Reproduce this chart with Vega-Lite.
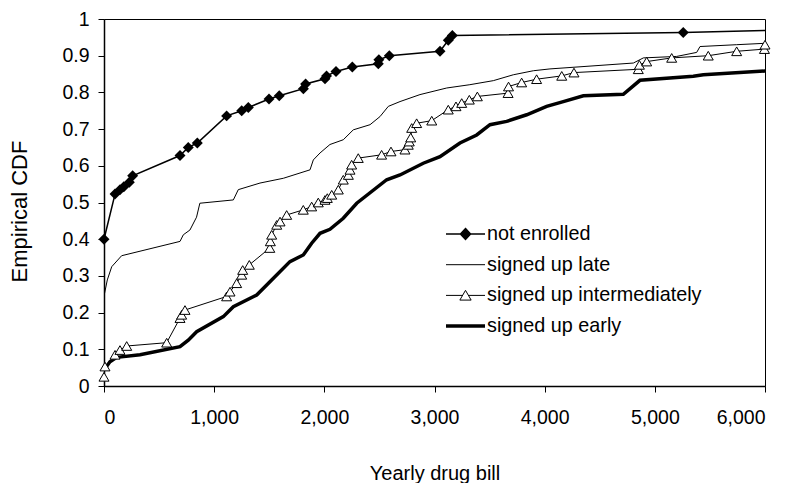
{
  "$schema": "https://vega.github.io/schema/vega-lite/v6.json",
  "width": 661,
  "height": 367,
  "autosize": "none",
  "padding": {"left": 104, "top": 19, "right": 30, "bottom": 97},
  "background": "white",
  "config": {
    "font": "Liberation Sans",
    "view": {"stroke": "black", "strokeWidth": 1},
    "axis": {"grid": false, "domainColor": "black", "domainWidth": 1.5, "tickColor": "black", "tickSize": 6, "labelColor": "black", "titleColor": "black", "labelFont": "Liberation Sans", "titleFont": "Liberation Sans", "titleFontWeight": "normal"}
  },
  "data": {"values": [
    {"g":"not enrolled","x":0,"y":0.40},{"g":"not enrolled","x":100,"y":0.523},{"g":"not enrolled","x":145,"y":0.535},{"g":"not enrolled","x":180,"y":0.543},{"g":"not enrolled","x":230,"y":0.555},{"g":"not enrolled","x":260,"y":0.573},{"g":"not enrolled","x":690,"y":0.628},{"g":"not enrolled","x":765,"y":0.65},{"g":"not enrolled","x":847,"y":0.662},{"g":"not enrolled","x":1113,"y":0.736},{"g":"not enrolled","x":1250,"y":0.75},{"g":"not enrolled","x":1310,"y":0.759},{"g":"not enrolled","x":1498,"y":0.782},{"g":"not enrolled","x":1591,"y":0.791},{"g":"not enrolled","x":1810,"y":0.81},{"g":"not enrolled","x":1830,"y":0.823},{"g":"not enrolled","x":2006,"y":0.837},{"g":"not enrolled","x":2020,"y":0.845},{"g":"not enrolled","x":2106,"y":0.857},{"g":"not enrolled","x":2254,"y":0.869},{"g":"not enrolled","x":2490,"y":0.878},{"g":"not enrolled","x":2495,"y":0.889},{"g":"not enrolled","x":2590,"y":0.9},{"g":"not enrolled","x":3050,"y":0.912},{"g":"not enrolled","x":3125,"y":0.942},{"g":"not enrolled","x":3162,"y":0.955},{"g":"not enrolled","x":5258,"y":0.963},{"g":"not enrolled","x":6400,"y":0.972},
    {"g":"signed up late","x":0,"y":0.245},{"g":"signed up late","x":30,"y":0.289},{"g":"signed up late","x":70,"y":0.325},{"g":"signed up late","x":160,"y":0.355},{"g":"signed up late","x":690,"y":0.394},{"g":"signed up late","x":720,"y":0.412},{"g":"signed up late","x":780,"y":0.425},{"g":"signed up late","x":840,"y":0.46},{"g":"signed up late","x":870,"y":0.498},{"g":"signed up late","x":1174,"y":0.507},{"g":"signed up late","x":1219,"y":0.535},{"g":"signed up late","x":1416,"y":0.553},{"g":"signed up late","x":1628,"y":0.566},{"g":"signed up late","x":1870,"y":0.589},{"g":"signed up late","x":1900,"y":0.616},{"g":"signed up late","x":1961,"y":0.635},{"g":"signed up late","x":2051,"y":0.658},{"g":"signed up late","x":2172,"y":0.671},{"g":"signed up late","x":2263,"y":0.698},{"g":"signed up late","x":2415,"y":0.712},{"g":"signed up late","x":2505,"y":0.734},{"g":"signed up late","x":2581,"y":0.762},{"g":"signed up late","x":2687,"y":0.775},{"g":"signed up late","x":2868,"y":0.794},{"g":"signed up late","x":3111,"y":0.812},{"g":"signed up late","x":3321,"y":0.821},{"g":"signed up late","x":3534,"y":0.832},{"g":"signed up late","x":3715,"y":0.848},{"g":"signed up late","x":3897,"y":0.859},{"g":"signed up late","x":4048,"y":0.864},{"g":"signed up late","x":4805,"y":0.88},{"g":"signed up late","x":4896,"y":0.894},{"g":"signed up late","x":5198,"y":0.898},{"g":"signed up late","x":5380,"y":0.909},{"g":"signed up late","x":5410,"y":0.925},{"g":"signed up late","x":5743,"y":0.93},{"g":"signed up late","x":6015,"y":0.934},
    {"g":"signed up intermediately","x":0,"y":0.025},{"g":"signed up intermediately","x":9,"y":0.053},{"g":"signed up intermediately","x":100,"y":0.085},{"g":"signed up intermediately","x":145,"y":0.098},{"g":"signed up intermediately","x":206,"y":0.109},{"g":"signed up intermediately","x":569,"y":0.118},{"g":"signed up intermediately","x":690,"y":0.185},{"g":"signed up intermediately","x":705,"y":0.194},{"g":"signed up intermediately","x":735,"y":0.207},{"g":"signed up intermediately","x":1113,"y":0.244},{"g":"signed up intermediately","x":1144,"y":0.257},{"g":"signed up intermediately","x":1204,"y":0.28},{"g":"signed up intermediately","x":1250,"y":0.303},{"g":"signed up intermediately","x":1259,"y":0.316},{"g":"signed up intermediately","x":1319,"y":0.33},{"g":"signed up intermediately","x":1505,"y":0.376},{"g":"signed up intermediately","x":1510,"y":0.394},{"g":"signed up intermediately","x":1522,"y":0.412},{"g":"signed up intermediately","x":1568,"y":0.439},{"g":"signed up intermediately","x":1598,"y":0.448},{"g":"signed up intermediately","x":1658,"y":0.466},{"g":"signed up intermediately","x":1809,"y":0.48},{"g":"signed up intermediately","x":1885,"y":0.489},{"g":"signed up intermediately","x":1945,"y":0.5},{"g":"signed up intermediately","x":2006,"y":0.507},{"g":"signed up intermediately","x":2027,"y":0.512},{"g":"signed up intermediately","x":2067,"y":0.521},{"g":"signed up intermediately","x":2127,"y":0.535},{"g":"signed up intermediately","x":2172,"y":0.562},{"g":"signed up intermediately","x":2218,"y":0.575},{"g":"signed up intermediately","x":2233,"y":0.589},{"g":"signed up intermediately","x":2248,"y":0.603},{"g":"signed up intermediately","x":2308,"y":0.621},{"g":"signed up intermediately","x":2520,"y":0.63},{"g":"signed up intermediately","x":2605,"y":0.639},{"g":"signed up intermediately","x":2732,"y":0.644},{"g":"signed up intermediately","x":2762,"y":0.657},{"g":"signed up intermediately","x":2771,"y":0.666},{"g":"signed up intermediately","x":2784,"y":0.677},{"g":"signed up intermediately","x":2793,"y":0.703},{"g":"signed up intermediately","x":2838,"y":0.716},{"g":"signed up intermediately","x":2975,"y":0.723},{"g":"signed up intermediately","x":3125,"y":0.753},{"g":"signed up intermediately","x":3195,"y":0.762},{"g":"signed up intermediately","x":3247,"y":0.771},{"g":"signed up intermediately","x":3316,"y":0.78},{"g":"signed up intermediately","x":3389,"y":0.789},{"g":"signed up intermediately","x":3668,"y":0.798},{"g":"signed up intermediately","x":3672,"y":0.816},{"g":"signed up intermediately","x":3791,"y":0.827},{"g":"signed up intermediately","x":3927,"y":0.836},{"g":"signed up intermediately","x":4155,"y":0.845},{"g":"signed up intermediately","x":4266,"y":0.854},{"g":"signed up intermediately","x":4850,"y":0.863},{"g":"signed up intermediately","x":4860,"y":0.875},{"g":"signed up intermediately","x":4926,"y":0.884},{"g":"signed up intermediately","x":5153,"y":0.894},{"g":"signed up intermediately","x":5485,"y":0.9},{"g":"signed up intermediately","x":5743,"y":0.912},{"g":"signed up intermediately","x":5995,"y":0.918},{"g":"signed up intermediately","x":6000,"y":0.93},
    {"g":"signed up early","x":0,"y":0.044},{"g":"signed up early","x":54,"y":0.066},{"g":"signed up early","x":115,"y":0.078},{"g":"signed up early","x":327,"y":0.085},{"g":"signed up early","x":690,"y":0.107},{"g":"signed up early","x":765,"y":0.125},{"g":"signed up early","x":841,"y":0.148},{"g":"signed up early","x":1083,"y":0.189},{"g":"signed up early","x":1174,"y":0.216},{"g":"signed up early","x":1386,"y":0.248},{"g":"signed up early","x":1522,"y":0.289},{"g":"signed up early","x":1688,"y":0.339},{"g":"signed up early","x":1809,"y":0.357},{"g":"signed up early","x":1885,"y":0.389},{"g":"signed up early","x":1961,"y":0.416},{"g":"signed up early","x":2051,"y":0.427},{"g":"signed up early","x":2172,"y":0.457},{"g":"signed up early","x":2294,"y":0.498},{"g":"signed up early","x":2566,"y":0.562},{"g":"signed up early","x":2687,"y":0.575},{"g":"signed up early","x":2898,"y":0.607},{"g":"signed up early","x":3050,"y":0.625},{"g":"signed up early","x":3231,"y":0.662},{"g":"signed up early","x":3383,"y":0.684},{"g":"signed up early","x":3504,"y":0.712},{"g":"signed up early","x":3655,"y":0.721},{"g":"signed up early","x":3837,"y":0.739},{"g":"signed up early","x":4018,"y":0.762},{"g":"signed up early","x":4169,"y":0.775},{"g":"signed up early","x":4351,"y":0.791},{"g":"signed up early","x":4714,"y":0.795},{"g":"signed up early","x":4865,"y":0.833},{"g":"signed up early","x":5349,"y":0.844},{"g":"signed up early","x":5440,"y":0.848},{"g":"signed up early","x":6045,"y":0.859}
  ]},
  "encoding": {
    "x": {"field": "x", "type": "quantitative", "scale": {"domain": [0, 6000], "nice": false},
      "axis": {"title": "Yearly drug bill", "values": [0,1000,2000,3000,4000,5000,6000], "format": ",.0f", "labelFontSize": 19.5, "labelPadding": 16, "titleFontSize": 20, "titleBaseline": "alphabetic", "titleY": 93}},
    "y": {"field": "y", "type": "quantitative", "scale": {"domain": [0, 1], "nice": false},
      "axis": {"title": "Empirical CDF", "values": [0,0.1,0.2,0.3,0.4,0.5,0.6,0.7,0.8,0.9,1], "format": ".1~f", "labelFontSize": 19.5, "labelPadding": 9, "titleFontSize": 22, "titleBaseline": "middle", "titleX": -85, "titleY": 192}}
  },
  "layer": [
    {
      "mark": {"type": "line", "color": "black", "clip": true},
      "encoding": {
        "detail": {"field": "g", "type": "nominal"},
        "strokeWidth": {"field": "g", "type": "nominal", "scale": {"type": "ordinal", "domain": ["not enrolled", "signed up late", "signed up intermediately", "signed up early"], "range": [1.5, 1, 1, 3.5]}}
      }
    },
    {
      "transform": [{"filter": "datum.g === 'signed up late' && datum.x === 0"}],
      "mark": {"type": "point", "color": "black", "opacity": 0},
      "encoding": {
        "shape": {"field": "g", "type": "nominal",
          "scale": {"domain": ["not enrolled", "signed up late", "signed up intermediately", "signed up early"],
            "range": ["M-1,0L1,0M0,-0.28L0.26,0L0,0.28L-0.26,0Z", "M-1,0L1,0", "M-1,0L-0.15,0M0.15,0L1,0M0,-0.26L0.29,0.24L-0.29,0.24Z", "M-1,0L1,0"]},
          "legend": {
            "title": null, "orient": "none", "legendX": 340, "legendY": 202, "padding": 0,
            "symbolSize": 1521, "symbolOpacity": 1, "clipHeight": 26, "rowPadding": 4.7, "labelOffset": 0,
            "labelFontSize": 19.8, "labelFont": "Liberation Sans", "labelColor": "black", "labelLimit": 400
          }},
        "fill": {"field": "g", "type": "nominal", "scale": {"domain": ["not enrolled", "signed up late", "signed up intermediately", "signed up early"], "range": ["black", "white", "white", "white"]}}
      }
    },
    {
      "transform": [{"filter": "datum.g === 'not enrolled' && datum.x <= 6010"}],
      "mark": {"type": "point", "shape": "diamond", "size": 120, "filled": true, "color": "black", "opacity": 1}
    },
    {
      "transform": [{"filter": "datum.g === 'signed up intermediately' && datum.x <= 6010"}],
      "mark": {"type": "point", "shape": "triangle-up", "size": 100, "fill": "white", "stroke": "black", "strokeWidth": 1, "opacity": 1, "fillOpacity": 1}
    }
  ]
}
